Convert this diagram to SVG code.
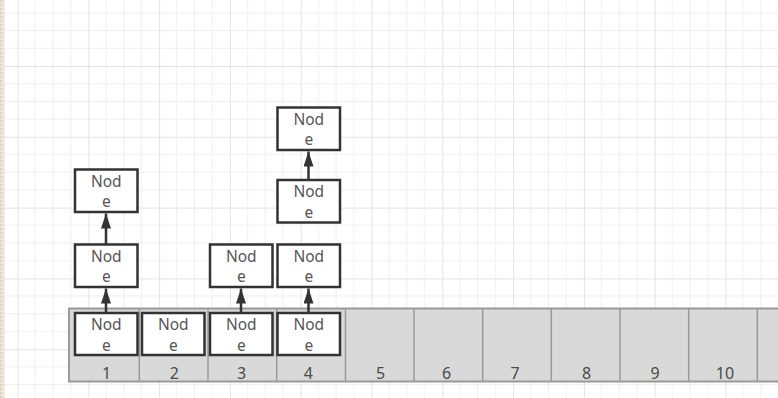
<svg xmlns="http://www.w3.org/2000/svg" width="778" height="398" viewBox="0 0 778 398">
<defs>
<pattern id="grid" x="17.5" y="-4.8" width="70.8" height="70.8" patternUnits="userSpaceOnUse">
<path d="M17.7 0V70.8M35.4 0V70.8M53.1 0V70.8M0 17.7H70.8M0 35.4H70.8M0 53.1H70.8" stroke="#efefef" stroke-width="1" fill="none"/>
<path d="M0.5 0V70.8M0 0.5H70.8" stroke="#e3e3e3" stroke-width="1" fill="none"/>
</pattern>
<pattern id="paper" width="4" height="4" patternUnits="userSpaceOnUse">
<rect width="4" height="4" fill="#ece6d8"/>
<rect width="2" height="2" fill="#ddd4c0"/>
</pattern>
<marker id="arr" viewBox="0 0 15 10" refX="15" refY="5" markerWidth="15" markerHeight="10" orient="auto" markerUnits="userSpaceOnUse">
<path d="M0 0L15 5L0 10Z" fill="#333"/>
</marker>
<style>
.node rect{fill:#fff;stroke:#333;stroke-width:2.5}
.node text{font-family:"Noto Sans","Open Sans",sans-serif;font-size:15.5px;fill:#555;text-anchor:middle}
.cell{fill:none;stroke:#9a9a9a;stroke-width:1.5}
.num{font-family:"Noto Sans","Open Sans",sans-serif;font-size:16px;fill:#4a4a4a;text-anchor:middle}
.conn{stroke:#333;stroke-width:2.5;fill:none}
</style>
</defs>
<rect width="778" height="398" fill="#fff"/>
<rect width="778" height="398" fill="url(#grid)"/>
<rect x="0" y="0" width="4.5" height="398" fill="url(#paper)"/>

<g id="array">
<rect x="69" y="308.5" width="720" height="73" fill="#d9d9d9" stroke="#999" stroke-width="2"/>
<path class="cell" d="M139.3 309V381M208 309V381M276.7 309V381M345.5 309V381M414 309V381M482.7 309V381M551.3 309V381M620 309V381M688.7 309V381M757.3 309V381"/>
<text class="num" x="106.5" y="379">1</text>
<text class="num" x="174.3" y="379">2</text>
<text class="num" x="241.7" y="379">3</text>
<text class="num" x="308.3" y="379">4</text>
<text class="num" x="380.5" y="379">5</text>
<text class="num" x="446.7" y="379">6</text>
<text class="num" x="515" y="379">7</text>
<text class="num" x="586.5" y="379">8</text>
<text class="num" x="655" y="379">9</text>
<text class="num" x="725" y="379">10</text>
</g>

<g id="connectors">
<line class="conn" x1="106" y1="313" x2="106" y2="288.5" marker-end="url(#arr)"/>
<line class="conn" x1="106" y1="244" x2="106" y2="213.5" marker-end="url(#arr)"/>
<line class="conn" x1="241" y1="313" x2="241" y2="288.5" marker-end="url(#arr)"/>
<line class="conn" x1="308.5" y1="313" x2="308.5" y2="288.5" marker-end="url(#arr)"/>
<line class="conn" x1="308.5" y1="180" x2="308.5" y2="151.5" marker-end="url(#arr)"/>
</g>

<g id="n1a" class="node"><rect x="75" y="313" width="62.5" height="42"/><text x="106.3" y="330">Nod</text><text x="106.3" y="350.5">e</text></g>
<g id="n2a" class="node"><rect x="142" y="313" width="62.5" height="42"/><text x="173.3" y="330">Nod</text><text x="173.3" y="350.5">e</text></g>
<g id="n3a" class="node"><rect x="210" y="313" width="62.5" height="42"/><text x="241.3" y="330">Nod</text><text x="241.3" y="350.5">e</text></g>
<g id="n4a" class="node"><rect x="277.5" y="313" width="62.5" height="42"/><text x="308.8" y="330">Nod</text><text x="308.8" y="350.5">e</text></g>

<g id="n1b" class="node"><rect x="75" y="244.5" width="62.5" height="42.5"/><text x="106.3" y="261.5">Nod</text><text x="106.3" y="282">e</text></g>
<g id="n3b" class="node"><rect x="210" y="244.5" width="62.5" height="42.5"/><text x="241.3" y="261.5">Nod</text><text x="241.3" y="282">e</text></g>
<g id="n4b" class="node"><rect x="277.5" y="244.5" width="62.5" height="42.5"/><text x="308.8" y="261.5">Nod</text><text x="308.8" y="282">e</text></g>

<g id="n1c" class="node"><rect x="75" y="169.5" width="62.5" height="42.5"/><text x="106.3" y="186.5">Nod</text><text x="106.3" y="207">e</text></g>
<g id="n4c" class="node"><rect x="277.5" y="180" width="62.5" height="42.5"/><text x="308.8" y="197">Nod</text><text x="308.8" y="217.5">e</text></g>
<g id="n4d" class="node"><rect x="277.5" y="107.5" width="62.5" height="42.5"/><text x="308.8" y="124.5">Nod</text><text x="308.8" y="145">e</text></g>
</svg>
